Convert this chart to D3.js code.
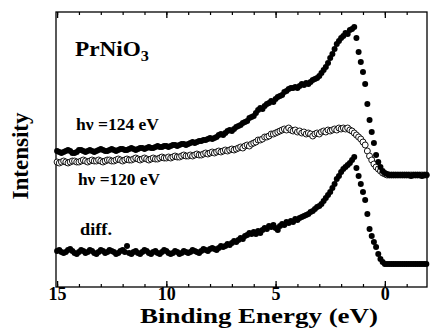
<!DOCTYPE html>
<html>
<head>
<meta charset="utf-8">
<script src="https://cdn.jsdelivr.net/npm/d3@7"></script>
<style>
  html, body { margin: 0; padding: 0; background: #fff; }
  svg { display: block; }
</style>
</head>
<body>
<svg id="chart" width="430" height="328"></svg>
<script>
// ---- DATA (binding energy grid: 15.0 eV down to -1.9 eV, 0.1 eV step) ----
const energyStart = 15.0;
const energyStep = 0.1;

// hv = 124 eV (filled circles), arbitrary intensity units
const int124 = [
  149,148,147,148,149,150,149,147,147,148,
  150,150,149,148,149,150,149,148,149,150,
  151,150,149,149,150,151,150,149,150,151,
  151,150,150,151,152,151,150,151,152,152,
  151,152,153,152,152,153,154,153,153,154,
  154,153,154,155,155,154,155,156,156,155,
  156,157,158,157,158,159,159,160,160,161,
  162,161,162,163,165,166,165,167,169,170,
  169,171,173,174,175,177,178,179,182,183,
  184,187,190,192,191,194,196,197,199,198,
  201,203,204,205,208,209,211,212,212,213,
  212,214,216,215,217,216,218,220,221,222,
  224,227,230,233,237,242,246,251,256,259,
  262,264,267,266,270,271,273,262,248,238,
  228,216,196,180,168,157,145,138,133,129,
  127,126,125,125,125,125,125,125,125,125,
  125,125,124,125,125,125,125,124,125,125
];

// hv = 120 eV (open circles)
const int120 = [
  138,137,138,139,138,137,138,139,139,138,
  138,139,140,139,138,139,140,139,139,140,
  139,138,139,140,140,139,139,140,141,140,
  139,140,141,140,140,141,142,141,140,141,
  142,141,140,141,142,141,141,142,143,142,
  142,143,142,143,144,143,143,144,145,144,
  144,145,144,145,146,145,145,146,147,146,
  147,148,147,148,149,148,149,150,149,150,
  151,150,151,152,153,152,154,155,154,156,
  157,158,160,160,161,163,163,164,166,166,
  167,168,169,170,171,170,172,170,169,170,
  168,169,167,168,166,167,166,164,166,167,
  166,168,169,168,170,169,170,171,170,172,
  171,172,171,172,170,169,167,165,163,161,
  158,155,149,144,140,136,133,131,129,127,
  126,125,125,125,125,125,125,125,125,125,
  125,125,125,125,125,125,125,125,125,125
];

// difference spectrum (filled circles)
const intDiff = [
  49,50,48,47,48,50,51,49,47,46,
  48,50,49,47,48,50,49,47,46,48,
  50,49,47,48,50,49,48,46,47,49,
  50,48,54,47,46,48,49,47,46,48,
  50,49,47,46,48,49,47,46,48,50,
  49,47,46,47,49,48,46,47,49,48,
  47,48,50,49,48,47,49,51,50,49,
  51,52,51,50,52,54,53,54,56,55,
  57,59,58,60,62,61,64,65,67,66,
  68,66,69,67,70,72,71,74,73,75,
  72,70,74,76,75,78,77,79,78,81,
  80,82,83,84,85,86,88,89,91,93,
  94,96,99,102,105,108,112,116,121,124,
  128,131,133,135,137,140,143,132,124,116,
  108,100,86,71,64,58,53,46,41,38,
  36,36,36,36,36,36,36,36,36,36,
  36,36,36,36,36,36,36,36,36,36
];

const majorTicks = [15, 10, 5, 0];
const tickLabels = ["15", "10", "5", "0"];
const minorTicks = [15,14,13,12,11,10,9,8,7,6,5,4,3,2,1,0,-1];
const xDomain = [15.05, -1.93];
const yDomain = [13, 288];

// ---- LAYOUT ----
const FONT = "Liberation Serif";
const svg = d3.select("#chart");
const L = 56, R = 427, T = 12, B = 287;

const x = d3.scaleLinear().domain(xDomain).range([L, R]);
const y = d3.scaleLinear().domain(yDomain).range([B, T]);

const energy = i => energyStart - i * energyStep;
const toPts = arr => arr.map((v, i) => ({ e: energy(i), v }));

function txt(sel, size) {
  return sel.style("font-family", FONT).style("font-weight", "bold")
    .style("font-size", size + "px").attr("fill", "#000");
}

// frame
svg.append("rect")
  .attr("x", L).attr("y", T).attr("width", R - L).attr("height", B - T)
  .attr("fill", "none").attr("stroke", "#000").attr("stroke-width", 1.3);

// minor ticks (bottom & top)
svg.append("g").attr("transform", `translate(0,${B})`)
  .call(d3.axisBottom(x).tickValues(minorTicks).tickSize(-3).tickFormat(""))
  .call(g => g.select(".domain").remove())
  .call(g => g.selectAll("line").attr("stroke-width", 1.2));
svg.append("g").attr("transform", `translate(0,${T})`)
  .call(d3.axisTop(x).tickValues(minorTicks).tickSize(-3).tickFormat(""))
  .call(g => g.select(".domain").remove())
  .call(g => g.selectAll("line").attr("stroke-width", 1.2));

// major ticks with labels
svg.append("g").attr("transform", `translate(0,${B})`)
  .call(d3.axisBottom(x).tickValues(majorTicks).tickSize(-6).tickPadding(0)
    .tickFormat((d, i) => tickLabels[i]))
  .call(g => g.select(".domain").remove())
  .call(g => g.selectAll("line").attr("stroke-width", 1.3))
  .call(g => txt(g.selectAll("text"), 18));
svg.append("g").attr("transform", `translate(0,${T})`)
  .call(d3.axisTop(x).tickValues(majorTicks).tickSize(-6).tickFormat(""))
  .call(g => g.select(".domain").remove())
  .call(g => g.selectAll("line").attr("stroke-width", 1.3));

// series
const r = 3.0;
svg.append("g").selectAll("circle").data(toPts(int120)).join("circle")
  .attr("cx", d => x(d.e)).attr("cy", d => y(d.v)).attr("r", r)
  .attr("fill", "#fff").attr("stroke", "#000").attr("stroke-width", 0.9);

svg.append("g").selectAll("circle").data(toPts(int124)).join("circle")
  .attr("cx", d => x(d.e)).attr("cy", d => y(d.v)).attr("r", r)
  .attr("fill", "#000");

svg.append("g").selectAll("circle").data(toPts(intDiff)).join("circle")
  .attr("cx", d => x(d.e)).attr("cy", d => y(d.v)).attr("r", r)
  .attr("fill", "#000");

// annotations
const title = txt(svg.append("text").attr("x", 75).attr("y", 56), 20)
  .attr("textLength", 74).attr("lengthAdjust", "spacingAndGlyphs");
title.append("tspan").text("PrNiO");
title.append("tspan").attr("dy", 5).style("font-size", "14px").text("3");

txt(svg.append("text").attr("x", 76).attr("y", 130), 17)
  .attr("textLength", 83).attr("lengthAdjust", "spacingAndGlyphs").text("hν =124 eV");
txt(svg.append("text").attr("x", 78).attr("y", 185), 17)
  .attr("textLength", 82).attr("lengthAdjust", "spacingAndGlyphs").text("hν =120 eV");
txt(svg.append("text").attr("x", 80).attr("y", 235), 17)
  .attr("textLength", 32).attr("lengthAdjust", "spacingAndGlyphs").text("diff.");

// axis titles
txt(svg.append("text").attr("x", 140).attr("y", 323), 21)
  .attr("textLength", 238).attr("lengthAdjust", "spacingAndGlyphs").text("Binding Energy (eV)");
txt(svg.append("text").attr("transform", "translate(28,156) rotate(-90)")
  .attr("text-anchor", "middle"), 23).text("Intensity");
</script>
</body>
</html>
